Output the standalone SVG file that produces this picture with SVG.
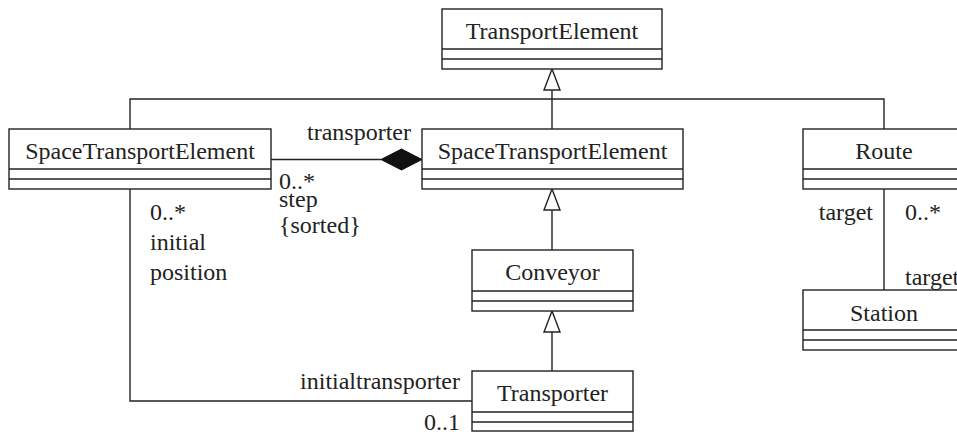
<svg xmlns="http://www.w3.org/2000/svg" width="957" height="432" viewBox="0 0 957 432">
<style>
.box{fill:#fff;stroke:#222;stroke-width:1.4}
.sep{stroke:#222;stroke-width:1.4}
.ln{fill:none;stroke:#222;stroke-width:1.4}
.gen{fill:#fff;stroke:#222;stroke-width:1.4}
.comp{fill:#111;stroke:#111;stroke-width:1}
.c{text-anchor:middle}
.r{text-anchor:end}
</style>
<rect width="957" height="432" fill="#fff"/>
<g font-family="Liberation Serif, serif" font-size="24" fill="#222">
<g id="connectors">
  <path class="ln" d="M130,129 V99 H884 V129"/>
  <path class="ln" d="M552,90 V129"/>
  <polygon class="gen" points="552,69 544,90 560,90"/>
  <path class="ln" d="M552,210 V250"/>
  <polygon class="gen" points="552,189 544,210 560,210"/>
  <path class="ln" d="M552,332 V371"/>
  <polygon class="gen" points="552,311 544,332 560,332"/>
  <path class="ln" d="M271,159.5 H381"/>
  <polygon class="comp" points="381,159.5 401.5,149 422,159.5 401.5,170"/>
  <path class="ln" d="M130,189 V401 H472"/>
  <path class="ln" d="M884,189 V290"/>
  <text x="307" y="140">transporter</text>
  <text x="279" y="189">0..*</text>
  <text x="279" y="207">step</text>
  <text x="279" y="233">{sorted}</text>
  <text x="150" y="220">0..*</text>
  <text x="150" y="250">initial</text>
  <text x="150" y="280">position</text>
  <text class="r" x="460" y="389">initialtransporter</text>
  <text class="r" x="460" y="430">0..1</text>
  <text class="r" x="873" y="220">target</text>
  <text x="905" y="220">0..*</text>
  <text x="905" y="285">target</text>
</g>
<g id="TransportElement">
  <rect class="box" x="442" y="9" width="220" height="60"/>
  <path class="sep" d="M442,49 H662 M442,59 H662"/>
  <text class="c" x="552" y="39">TransportElement</text>
</g>
<g id="SpaceTransportElementLeft">
  <rect class="box" x="9" y="129" width="262" height="60"/>
  <path class="sep" d="M9,169 H271 M9,179 H271"/>
  <text class="c" x="140" y="159">SpaceTransportElement</text>
</g>
<g id="SpaceTransportElement">
  <rect class="box" x="422" y="129" width="261" height="60"/>
  <path class="sep" d="M422,169 H683 M422,179 H683"/>
  <text class="c" x="552.5" y="159">SpaceTransportElement</text>
</g>
<g id="Route">
  <rect class="box" x="803" y="129" width="162" height="60"/>
  <path class="sep" d="M803,169 H965 M803,179 H965"/>
  <text class="c" x="884" y="159">Route</text>
</g>
<g id="Station">
  <rect class="box" x="803" y="290" width="162" height="60"/>
  <path class="sep" d="M803,330 H965 M803,340 H965"/>
  <text class="c" x="884" y="321">Station</text>
</g>
<g id="Conveyor">
  <rect class="box" x="472" y="250" width="161" height="61"/>
  <path class="sep" d="M472,291 H633 M472,301 H633"/>
  <text class="c" x="552.5" y="280">Conveyor</text>
</g>
<g id="Transporter">
  <rect class="box" x="472" y="371" width="161" height="60"/>
  <path class="sep" d="M472,412 H633 M472,422 H633"/>
  <text class="c" x="552.5" y="401">Transporter</text>
</g>
</g>
</svg>
